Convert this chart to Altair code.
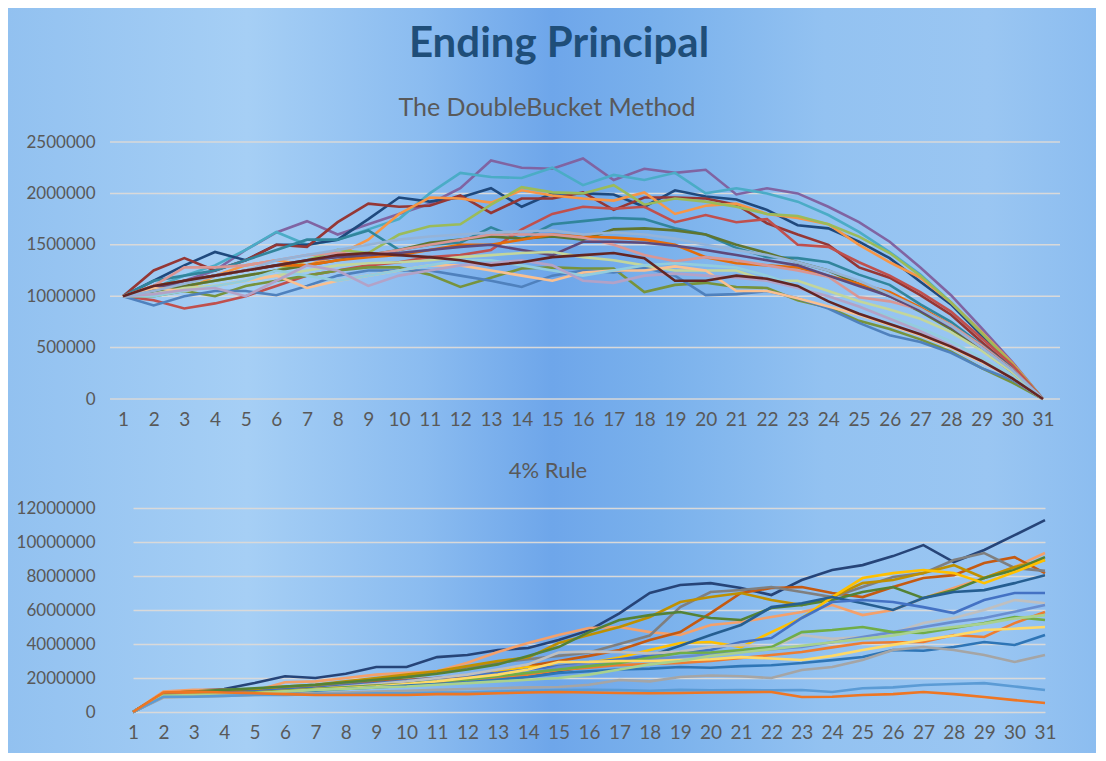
import altair as alt
import pandas as pd

years = list(range(1, 32))

# ---------------- The DoubleBucket Method (values in thousands) ----------------
db_names = ["DB1", "DB2", "DB3", "DB4", "DB5", "DB6", "DB7", "DB8", "DB9", "DB10",
            "DB11", "DB12", "DB13", "DB14", "DB15", "DB16", "DB17", "DB18", "DB19", "DB20"]
db_colors = ["#8064A2", "#4BACC6", "#1F497D", "#953735", "#F79646", "#9BBB59", "#31859C",
             "#C0504D", "#77933C", "#5F7530", "#4F81BD", "#E46C0A", "#D99694", "#5F497A",
             "#C3D69B", "#FAC090", "#93CDDD", "#B3A2C7", "#95B3D7", "#632523"]
db1 = [1000,1050,1150,1250,1450,1620,1730,1600,1700,1800,1900,2050,2320,2250,2240,2340,2130,2240,2200,2230,1990,2050,2000,1870,1720,1530,1280,1010,690,360,0]
db2 = [1000,1080,1200,1300,1450,1625,1500,1550,1650,1750,2000,2200,2160,2150,2250,2080,2180,2130,2200,2000,2050,2000,1920,1790,1625,1430,1210,940,650,340,0]
db3 = [1000,1150,1300,1430,1350,1500,1500,1550,1750,1960,1920,1960,2050,1870,2000,2000,1990,1870,2030,1970,1940,1840,1690,1660,1530,1370,1140,920,620,330,0]
db4 = [1000,1250,1370,1250,1350,1500,1480,1720,1900,1870,1880,1980,1810,1950,1950,2010,1840,1960,1960,1950,1890,1710,1600,1500,1280,1180,1010,820,555,300,0]
db5 = [1000,1100,1050,1200,1300,1350,1300,1400,1550,1800,1960,1950,1910,2030,1980,1950,1930,2010,1800,1880,1900,1800,1760,1700,1500,1330,1180,940,650,350,0]
db6 = [1000,1050,1100,1150,1200,1250,1350,1450,1420,1600,1680,1700,1890,2060,2010,2000,2080,1890,1950,1920,1870,1800,1780,1700,1580,1420,1200,940,640,340,0]
db7 = [1000,1150,1200,1250,1350,1450,1550,1550,1640,1450,1500,1520,1670,1550,1700,1730,1760,1750,1660,1600,1470,1380,1370,1330,1210,1110,920,750,525,300,0]
db8 = [1000,960,880,930,1000,1100,1200,1250,1300,1330,1380,1400,1450,1650,1800,1870,1850,1870,1720,1790,1720,1750,1500,1480,1330,1200,1040,850,590,330,0]
db9 = [1000,1000,1050,1000,1100,1150,1200,1250,1280,1280,1210,1090,1180,1270,1280,1270,1270,1040,1110,1130,1090,1080,960,890,760,680,580,460,300,160,0]
db10 = [1000,1050,1100,1150,1200,1250,1300,1350,1400,1450,1520,1550,1580,1560,1580,1550,1650,1660,1640,1600,1500,1420,1330,1250,1120,1000,850,680,480,260,0]
db11 = [1000,910,1000,1050,1050,1010,1100,1200,1250,1250,1250,1200,1150,1090,1200,1250,1230,1280,1200,1010,1020,1050,980,880,740,620,555,450,300,185,0]
db12 = [1000,1100,1150,1200,1250,1300,1300,1350,1380,1400,1450,1500,1500,1550,1600,1580,1570,1550,1500,1380,1320,1300,1280,1200,1120,1040,890,720,500,280,0]
db13 = [1000,1100,1280,1280,1300,1350,1400,1420,1400,1450,1500,1550,1600,1600,1600,1570,1500,1400,1340,1380,1350,1300,1250,1190,990,950,870,720,520,290,0]
db14 = [1000,1080,1150,1200,1250,1300,1350,1380,1400,1420,1450,1480,1500,1450,1400,1530,1530,1520,1490,1450,1400,1350,1300,1200,1100,1000,860,700,500,280,0]
db15 = [1000,1020,1080,1100,1150,1200,1250,1300,1320,1330,1350,1380,1400,1420,1430,1380,1350,1300,1250,1250,1250,1150,1150,1050,950,870,780,650,470,260,0]
db16 = [1000,1080,1050,1100,1150,1200,1080,1150,1200,1250,1300,1300,1250,1200,1150,1230,1250,1250,1290,1250,1050,1050,980,900,820,720,620,500,360,200,0]
db17 = [1000,1000,1050,1100,1150,1250,1200,1150,1200,1250,1300,1350,1350,1300,1250,1200,1250,1300,1320,1300,1280,1200,1100,1000,900,800,690,560,400,220,0]
db18 = [1000,1020,1060,1080,1000,1150,1300,1250,1100,1200,1250,1300,1320,1350,1300,1150,1130,1200,1220,1200,1180,1150,1080,1000,900,780,660,520,370,200,0]
db19 = [1000,1050,1120,1200,1250,1350,1400,1450,1500,1550,1580,1600,1620,1630,1640,1600,1620,1600,1560,1500,1450,1400,1330,1250,1150,1020,880,710,500,280,0]
db20 = [1000,1100,1150,1200,1250,1300,1350,1400,1420,1400,1380,1350,1300,1330,1380,1400,1420,1370,1150,1150,1200,1170,1100,950,830,730,630,510,370,200,0]
db_series = [db1, db2, db3, db4, db5, db6, db7, db8, db9, db10,
             db11, db12, db13, db14, db15, db16, db17, db18, db19, db20]
db_ticks = [0, 500000, 1000000, 1500000, 2000000, 2500000]

# ---------------- 4% Rule (values in thousands) ----------------
fr_names = ["R1", "R2", "R3", "R4", "R5", "R6", "R7", "R8", "R9", "R10",
            "R11", "R12", "R13", "R14", "R15", "R16", "R17", "R18", "R19"]
fr_colors = ["#264478", "#F4A06A", "#C55A11", "#7F7F7F", "#BF9000", "#548235", "#FFC000",
             "#255E91", "#4472C4", "#BFBFBF", "#698ED0", "#ED7D31", "#70AD47", "#FFD966",
             "#2E75B6", "#A9D18E", "#A5A5A5", "#5B9BD5", "#EE7623"]
fr1 = [0,1150,1250,1350,1700,2100,2000,2250,2650,2650,3230,3350,3650,3760,4230,4800,5800,7000,7470,7580,7290,6880,7760,8350,8640,9170,9820,8820,9530,10400,11290]
fr2 = [0,1200,1300,1300,1250,1750,1800,2000,2200,2300,2400,2900,3530,4060,4530,4940,5000,4700,4530,5120,5290,5590,5880,6290,5700,6000,6700,7290,7880,8530,9350]
fr3 = [0,1050,1100,1200,1300,1400,1500,1650,1800,1900,2000,2100,2400,2700,3000,3300,3650,4230,4700,5820,7000,7290,7350,7000,6760,7350,7880,8050,8760,9110,8170]
fr4 = [0,1000,1100,1200,1300,1450,1550,1700,1900,2100,2300,2600,2900,3100,3300,3500,4000,4500,6170,7060,7180,7350,7060,6760,7350,7940,8170,8940,9350,8470,8300]
fr5 = [0,1100,1200,1250,1350,1500,1600,1800,2000,2200,2400,2700,3000,3200,4060,4530,5000,5590,6470,6760,7000,6590,6290,6760,7580,7760,8170,8640,7880,8530,8940]
fr6 = [0,1100,1200,1300,1400,1500,1600,1750,1900,2050,2250,2500,2800,3300,3820,4700,5410,5700,5880,5530,5410,6120,6290,6590,7060,7350,6700,7170,7880,8350,9110]
fr7 = [0,950,1000,1100,1150,1250,1350,1450,1650,1700,1750,1900,2400,2650,2700,2880,3200,3650,4060,4120,3820,4700,5530,6760,7880,8170,8350,8170,7580,8230,8940]
fr8 = [0,1000,1100,1150,1200,1300,1400,1500,1600,1700,1800,1900,2100,2200,2400,2700,3000,3300,3900,4530,5120,6170,6400,6760,6400,6000,6700,7060,7170,7580,8050]
fr9 = [0,1000,1050,1100,1200,1300,1400,1550,1700,1850,2000,2150,2300,2500,2700,2900,3100,3300,3500,3650,4120,4350,5530,6470,6590,6470,6170,5820,6590,7000,7000]
fr10 = [0,900,950,1000,1100,1200,1350,1500,1650,1800,2000,2200,2500,2800,3500,3550,3530,3450,3550,3820,3950,3800,4530,4300,4410,4650,5230,5530,6000,6590,6400]
fr11 = [0,950,1000,1050,1100,1200,1300,1400,1500,1600,1700,1850,2000,2200,2650,2800,2950,3100,3250,3400,3550,3700,3820,4100,4410,4700,5000,5300,5530,5900,6290]
fr12 = [0,1000,1050,1100,1150,1250,1350,1450,1550,1650,1750,1900,2050,2200,2470,2600,2760,2820,2880,3000,3180,3350,3530,3800,4060,4100,4120,4530,4410,5230,5880]
fr13 = [0,950,1000,1050,1150,1250,1350,1450,1550,1650,1800,1900,2100,2300,2500,2700,2880,3200,3470,3500,3650,3820,4700,4820,5000,4700,4650,4940,5230,5590,5410]
fr14 = [0,900,950,1000,1100,1200,1300,1400,1500,1650,1800,2000,2200,2500,2940,2950,3000,3000,3050,3100,3230,3150,3060,3300,3650,3950,4230,4500,4820,4900,5000]
fr15 = [0,900,950,1000,1050,1150,1250,1350,1450,1550,1650,1750,1900,2050,2290,2400,2500,2550,2650,2600,2700,2750,2880,3050,3230,3650,3600,3820,4120,3940,4530]
fr16 = [0,950,1000,1050,1100,1200,1300,1350,1450,1500,1600,1700,1800,1900,2000,2200,2500,2800,3000,3300,3500,3700,3900,4100,4300,4500,4800,5000,5200,5500,5700]
fr17 = [0,850,900,950,1000,1050,1100,1150,1200,1250,1300,1350,1400,1450,1470,1600,1880,1800,2060,2150,2100,2000,2470,2650,3060,3650,3820,3650,3350,2940,3350]
fr18 = [0,900,900,950,1000,1000,1050,1050,1100,1100,1150,1150,1200,1250,1290,1300,1290,1250,1300,1280,1290,1270,1290,1180,1400,1450,1590,1650,1700,1500,1290]
fr19 = [0,1150,1200,1150,1100,1050,1000,1000,1000,1000,1050,1050,1100,1150,1180,1150,1120,1100,1120,1150,1160,1180,880,900,1000,1050,1180,1050,880,700,530]
fr_series = [fr1, fr2, fr3, fr4, fr5, fr6, fr7, fr8, fr9, fr10,
             fr11, fr12, fr13, fr14, fr15, fr16, fr17, fr18, fr19]
fr_ticks = [0, 2000000, 4000000, 6000000, 8000000, 10000000, 12000000]

bg_stops = [(0.0, "#92c1f0"), (0.22, "#a6cff5"), (0.38, "#8bbcf0"), (0.50, "#6ea6ea"),
            (0.60, "#7ab1ec"), (0.75, "#93c2f1"), (0.90, "#9ac6f2"), (1.0, "#8cbdf0")]


def long_df(names, series):
    rows = []
    for k, (n, vals) in enumerate(zip(names, series)):
        for yr, v in zip(years, vals):
            rows.append({"year": yr, "series": n, "value": v * 1000, "k": k})
    return pd.DataFrame(rows)


FONT = "Lato"
LABEL_COLOR = "#595959"
GRID = "#d9d9d9"
W = 950
H1 = 257
H2 = 204
LW = 2.6

db_df = long_df(db_names, db_series)
fr_df = long_df(fr_names, fr_series)

x_axis = dict(labelAngle=0, ticks=False, domain=False, grid=False,
              labelFontSize=19, labelColor=LABEL_COLOR, labelFont=FONT, labelPadding=11)

# ---------- top panel ----------
y1_scale = alt.Scale(domain=[0, 2500000], nice=False, zero=True)
y1_axis = alt.Axis(values=db_ticks, format="d", grid=False, ticks=False, domain=False,
                   labelFontSize=17, labelColor=LABEL_COLOR, labelFont=FONT,
                   labelPadding=15, zindex=1)

bg = alt.Chart(pd.DataFrame({"a": [0]})).mark_rect(
    color=alt.LinearGradient(
        gradient="linear", x1=0, x2=1, y1=0, y2=0,
        stops=[alt.GradientStop(offset=o, color=c) for o, c in bg_stops],
    )
).encode(x=alt.value(-102), x2=alt.value(986), y=alt.value(-134), y2=alt.value(611))

grid1 = alt.Chart(pd.DataFrame({"value": db_ticks})).mark_rule(
    color=GRID, strokeWidth=1.5
).encode(y=alt.Y("value:Q", scale=y1_scale, axis=y1_axis, title=None))

lines1 = alt.Chart(db_df).mark_line(strokeWidth=LW).encode(
    x=alt.X("year:O", title=None,
            scale=alt.Scale(type="point", range=[13, 933], padding=0),
            axis=alt.Axis(zindex=1, **x_axis)),
    y=alt.Y("value:Q", scale=y1_scale, axis=y1_axis, title=None),
    color=alt.Color("series:N", scale=alt.Scale(domain=db_names, range=db_colors), legend=None),
    order=alt.Order("k:Q"),
)

top = alt.layer(bg, grid1, lines1).properties(
    width=W, height=H1,
    title=alt.TitleParams("The DoubleBucket Method", fontSize=25, color=LABEL_COLOR,
                          font=FONT, fontWeight="normal", anchor="middle",
                          baseline="middle", offset=0, dy=125, dx=-38),
)

# ---------- bottom panel ----------
y2_scale = alt.Scale(domain=[0, 12000000], nice=False, zero=True)
bottom = alt.Chart(fr_df).mark_line(strokeWidth=LW).encode(
    x=alt.X("year:O", title=None,
            scale=alt.Scale(type="point", range=[23, 935], padding=0),
            axis=alt.Axis(**x_axis)),
    y=alt.Y("value:Q", scale=y2_scale, title=None,
            axis=alt.Axis(values=fr_ticks, format="d", grid=True, gridColor=GRID,
                          gridWidth=1.5, ticks=False, domain=False,
                          labelFontSize=17, labelColor=LABEL_COLOR, labelFont=FONT,
                          labelPadding=15)),
    color=alt.Color("series:N", scale=alt.Scale(domain=fr_names, range=fr_colors), legend=None),
    order=alt.Order("k:Q"),
).properties(
    width=W, height=H2,
    title=alt.TitleParams("4% Rule", fontSize=22, color=LABEL_COLOR, font=FONT,
                          fontWeight="normal", anchor="middle", baseline="middle",
                          offset=6, dx=-37),
)

chart = alt.vconcat(
    top, bottom, spacing=109, bounds="flush",
    title=alt.TitleParams("Ending Principal", fontSize=42, fontWeight="bold",
                          color="#1F4E79", font=FONT, anchor="middle",
                          baseline="middle", offset=0, dy=78, dx=7),
).resolve_scale(
    color="independent", x="independent", y="independent"
).properties(
    padding=0, background="#8fbff0"
).configure_view(strokeWidth=0)

chart.save("out.html", embed_options={"renderer": "svg", "actions": False})
